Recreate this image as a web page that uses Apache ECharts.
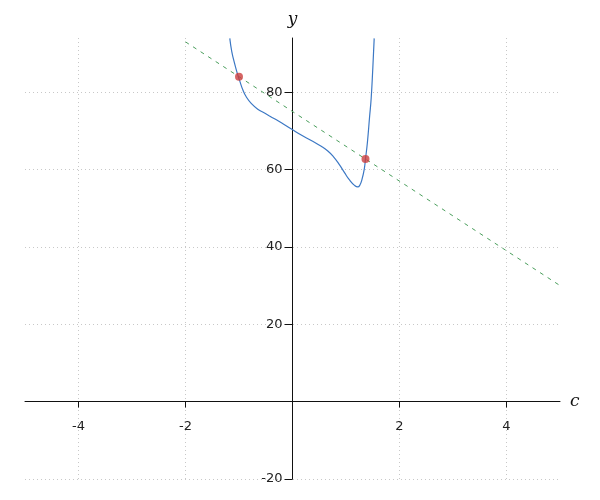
<!DOCTYPE html>
<html>
<head>
<meta charset="utf-8">
<script src="https://cdn.jsdelivr.net/npm/echarts@6/dist/echarts.min.js"></script>
<style>html,body{margin:0;padding:0;background:#fff}#c{width:600px;height:500px}</style>
</head>
<body>
<div id="c"></div>
<script>
// Values
const curveX = [-1.172, -1.135, -1.084, -1.033, -0.991, -0.929, -0.865, -0.772, -0.649, -0.523, -0.430, -0.336, -0.150, -0.013, 0.163, 0.350, 0.537, 0.660, 0.760, 0.879, 0.972, 1.065, 1.159, 1.221, 1.260, 1.300, 1.340, 1.364, 1.400, 1.440, 1.471, 1.501, 1.527];
const curveY = [93.9, 90.5, 87.5, 84.9, 83.1, 80.6, 78.8, 77.1, 75.6, 74.6, 73.85, 73.1, 71.6, 70.4, 68.9, 67.5, 66.0, 64.8, 63.4, 61.2, 59.2, 57.3, 55.9, 55.5, 56.0, 57.5, 60.0, 62.7, 67.0, 73.5, 78.5, 86.2, 93.9];
const lineX = [-2, 5];
const lineY = [93, 30];
const pointX = [-1.0, 1.364];
const pointY = [84.0, 62.7];
const xTicks = [-4, -2, 2, 4];
const yTicks = [-20, 20, 40, 60, 80];

const zip = (a, b) => a.map((v, i) => [v, b[i]]);

const chart = echarts.init(document.getElementById('c'), null, {renderer: 'canvas'});
const labelFont = {fontFamily: 'DejaVu Sans', fontSize: 13, color: '#222'};
const nameFont = {fontFamily: 'DejaVu Serif', fontStyle: 'italic', fontSize: 17, color: '#111'};
chart.setOption({
  animation: false,
  grid: {left: 25, right: 40, top: 38, bottom: 21, containLabel: false, outerBoundsMode: 'none'},
  xAxis: {
    type: 'value', min: -5, max: 5, position: 'bottom', offset: -77.4,
    name: 'c', nameLocation: 'end', nameGap: 10, nameTextStyle: Object.assign({padding: [6, 0, 0, 0]}, nameFont),
    axisLine: {onZero: false, lineStyle: {color: '#111', width: 1}},
    axisTick: {show: true, length: 6, customValues: xTicks, lineStyle: {color: '#111'}},
    axisLabel: Object.assign({customValues: xTicks, margin: 19}, labelFont),
    splitLine: {show: true, lineStyle: {color: '#c8c8c8', type: [1, 3], width: 1}}
  },
  yAxis: {
    type: 'value', min: -20, max: 94, position: 'left', offset: -267.5,
    name: 'y', nameLocation: 'end', nameGap: 10, nameTextStyle: nameFont,
    axisLine: {onZero: false, lineStyle: {color: '#111', width: 1}},
    axisTick: {show: true, length: 8, customValues: yTicks, lineStyle: {color: '#111'}},
    axisLabel: Object.assign({customValues: yTicks, margin: 10}, labelFont),
    splitLine: {show: true, lineStyle: {color: '#c8c8c8', type: [1, 3], width: 1}}
  },
  series: [
    {
      type: 'line', data: zip(lineX, lineY), showSymbol: false, silent: true,
      lineStyle: {color: '#4a9e5c', width: 1, type: [4, 5]}, z: 2
    },
    {
      type: 'line', data: zip(curveX, curveY), showSymbol: false, smooth: 0.5, silent: true,
      lineStyle: {color: '#3c78c4', width: 1.2}, z: 3
    },
    {
      type: 'scatter', data: zip(pointX, pointY), symbolSize: 8,
      itemStyle: {color: '#cc3f3f'}, z: 4
    }
  ]
});
</script>
</body>
</html>
